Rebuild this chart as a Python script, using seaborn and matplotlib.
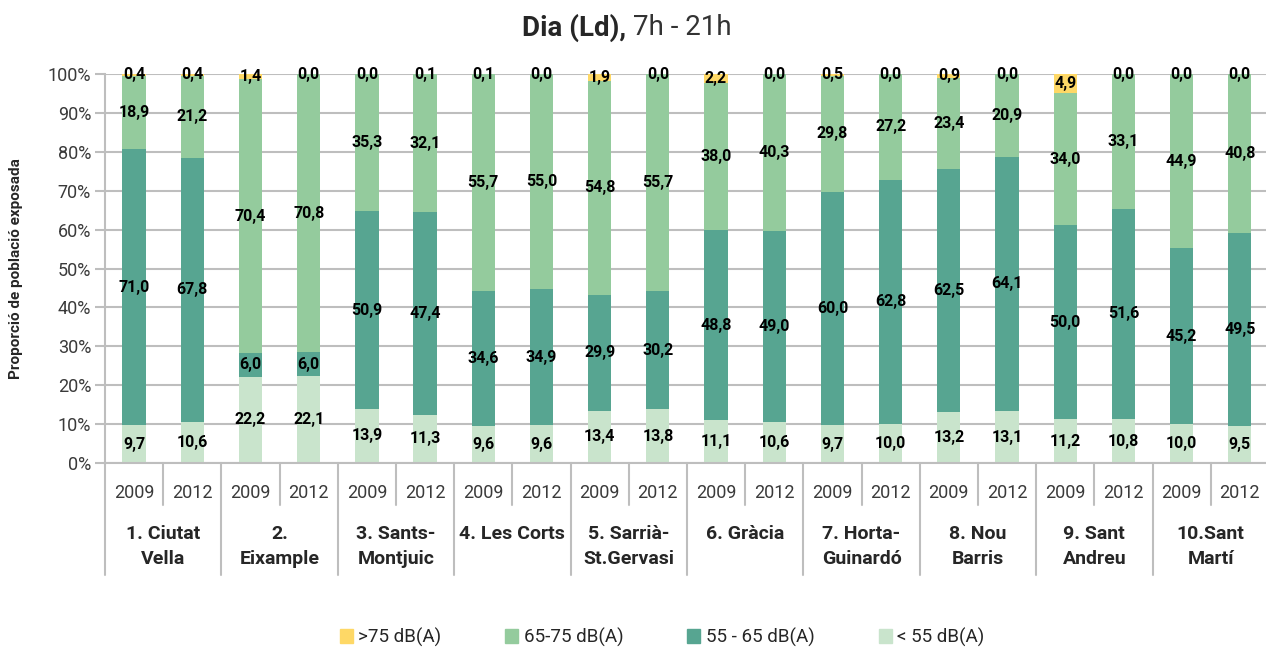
import numpy as np
import pandas as pd
import seaborn as sns
import matplotlib.pyplot as plt
import matplotlib.transforms as mtransforms
from matplotlib.patches import Patch

sns.set_theme(style="white")
plt.rcParams['font.family'] = ['Roboto', 'DejaVu Sans']

districts = ["1. Ciutat\nVella", "2.\nEixample", "3. Sants-\nMontjuic", "4. Les Corts",
             "5. Sarrià-\nSt.Gervasi", "6. Gràcia", "7. Horta-\nGuinardó", "8. Nou\nBarris",
             "9. Sant\nAndreu", "10.Sant\nMartí"]
years = ["2009", "2012"]

lt55 = [9.7, 10.6, 22.2, 22.1, 13.9, 11.3, 9.6, 9.6, 13.4, 13.8,
        11.1, 10.6, 9.7, 10.0, 13.2, 13.1, 11.2, 10.8, 10.0, 9.5]
db55_65 = [71.0, 67.8, 6.0, 6.0, 50.9, 47.4, 34.6, 34.9, 29.9, 30.2,
           48.8, 49.0, 60.0, 62.8, 62.5, 64.1, 50.0, 51.6, 45.2, 49.5]
db65_75 = [18.9, 21.2, 70.4, 70.8, 35.3, 32.1, 55.7, 55.0, 54.8, 55.7,
           38.0, 40.3, 29.8, 27.2, 23.4, 20.9, 34.0, 33.1, 44.9, 40.8]
gt75 = [0.4, 0.4, 1.4, 0.0, 0.0, 0.1, 0.1, 0.0, 1.9, 0.0,
        2.2, 0.0, 0.5, 0.0, 0.9, 0.0, 4.9, 0.0, 0.0, 0.0]

series = ["< 55 dB(A)", "55 - 65 dB(A)", "65-75 dB(A)", ">75 dB(A)"]
colors = {"< 55 dB(A)": "#C9E4CC", "55 - 65 dB(A)": "#57A591",
          "65-75 dB(A)": "#94CB9D", ">75 dB(A)": "#FED866"}

bars = [f"{d}|{y}" for d in range(len(districts)) for y in years]
vals = pd.DataFrame({"< 55 dB(A)": lt55, "55 - 65 dB(A)": db55_65,
                     "65-75 dB(A)": db65_75, ">75 dB(A)": gt75}, index=bars)
# 100% stacked, like the original
share = vals.div(vals.sum(axis=1), axis=0) * 100
cum = share.cumsum(axis=1)

fig = plt.figure(figsize=(12.66, 6.47), dpi=100)
ax = fig.add_axes([105 / 1266, 184 / 647, 1161 / 1266, 389 / 647])

for s in reversed(series):
    sns.barplot(x=bars, y=cum[s].values, color=colors[s], width=0.4,
                saturation=1, errorbar=None, ax=ax, linewidth=0, zorder=2)

# value labels in the middle of each segment
lower = cum - share
for i, b in enumerate(bars):
    for s in series:
        mid = lower.loc[b, s] + share.loc[b, s] / 2
        ax.text(i, mid, f"{vals.loc[b, s]:.1f}".replace('.', ','), ha='center',
                va='center', fontsize=11.5, fontweight='bold', color='black', zorder=5)

gridc = "#BEBEBE"
txtc = "#3A3A3A"
ax.set_ylim(0, 100)
ax.set_xlim(-0.5, 19.45)
ax.set_yticks(np.arange(0, 101, 10))
ax.set_yticklabels([f"{t}%" for t in range(0, 101, 10)], fontsize=13, color=txtc)
ax.yaxis.grid(True, color=gridc, linewidth=1.5)
ax.set_axisbelow(True)
ax.tick_params(axis='y', length=7, width=1.5, color=gridc, pad=3, left=True)
ax.set_xticks([])
ax.set_xlabel("")
for sp in ["top", "right"]:
    ax.spines[sp].set_visible(False)
ax.spines["left"].set_color(gridc)
ax.spines["left"].set_linewidth(1.5)
ax.spines["bottom"].set_color(gridc)
ax.spines["bottom"].set_linewidth(1.5)
ax.set_ylabel("Proporció de població exposada", fontsize=11, fontweight='bold')
ax.yaxis.set_label_coords(-0.071, 0.5)

# two-level category axis below the bars
trans = mtransforms.blended_transform_factory(ax.transData, ax.transAxes)
for i in range(len(bars)):
    ax.text(i, -0.077, years[i % 2], transform=trans, ha='center', va='center',
            fontsize=13, color=txtc)
    edge = i - 0.5
    bottom = -0.288 if i % 2 == 0 else -0.108
    ax.plot([edge, edge], [0, bottom], transform=trans, color=gridc, lw=1.5,
            clip_on=False)
for k, d in enumerate(districts):
    ax.text(2 * k + 0.5, -0.160, d, transform=trans, ha='center', va='top',
            fontsize=14, fontweight='bold', linespacing=1.5)

fig.text(0.5, 0.957, "Dia (Ld), ", ha='right', va='center', fontsize=20,
         fontweight='bold')
fig.text(0.5, 0.957, "7h - 21h", ha='left', va='center', fontsize=20,
         color='#333333')

handles = [Patch(color=colors[s]) for s in reversed(series)]
fig.legend(handles, list(reversed(series)), loc='center', bbox_to_anchor=(0.523, 0.015),
           ncol=4, frameon=False, handlelength=0.7, handleheight=0.7,
           handletextpad=0.3, columnspacing=3.4, prop={'size': 13.5})

fig.savefig("out.png", dpi=100)
